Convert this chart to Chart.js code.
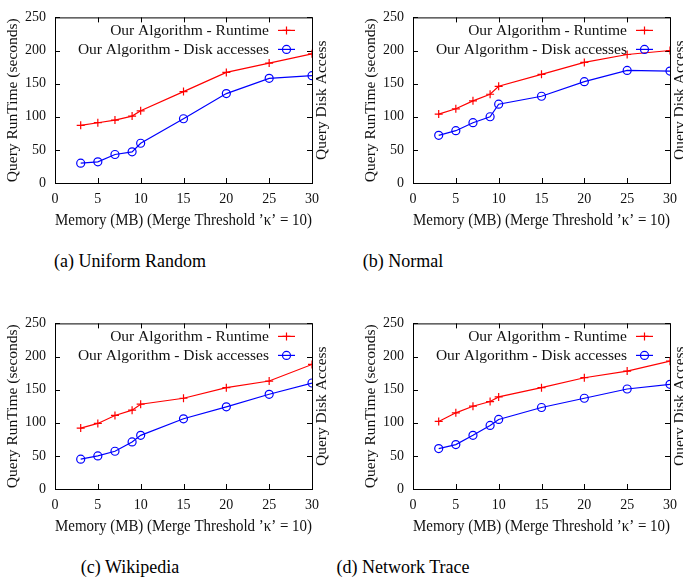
<!DOCTYPE html>
<html>
<head>
<meta charset="utf-8">
<title>Query runtime vs memory</title>
<script src="https://cdn.jsdelivr.net/npm/chart.js@4.4.1/dist/chart.umd.min.js"></script>
<style>
	html, body { margin: 0; padding: 0; background: #fff; }
	#sheet { position: relative; width: 683px; height: 580px; overflow: hidden; }
	.panel { position: absolute; }
	.caption {
		position: absolute;
		width: 260px;
		margin-left: -130px;
		text-align: center;
		font: 18px "Liberation Serif", serif;
		line-height: 20px;
		color: #000;
	}
</style>
</head>
<body>
<div id="sheet">
	<canvas id="chart-a" class="panel" width="340" height="235" style="left:0;top:0"></canvas>
	<canvas id="chart-b" class="panel" width="340" height="235" style="left:358px;top:0"></canvas>
	<canvas id="chart-c" class="panel" width="340" height="235" style="left:0;top:306px"></canvas>
	<canvas id="chart-d" class="panel" width="340" height="235" style="left:358px;top:306px"></canvas>
	<div id="cap-a" class="caption" style="left:130px;top:251px"></div>
	<div id="cap-b" class="caption" style="left:403px;top:251px"></div>
	<div id="cap-c" class="caption" style="left:130px;top:557px"></div>
	<div id="cap-d" class="caption" style="left:403px;top:557px"></div>
</div>
<script>
// memory budget on the x axis (MB)
var memoryMB = [3, 5, 7, 9, 10, 15, 20, 25, 30];
var xTickValues = [0, 5, 10, 15, 20, 25, 30];
var yTickValues = [0, 50, 100, 150, 200, 250];

var seriesLabels = ['Our Algorithm - Runtime', 'Our Algorithm - Disk accesses'];
var captions = ['(a) Uniform Random', '(b) Normal', '(c) Wikipedia', '(d) Network Trace'];

var runtimeUniform = [87, 91, 95, 101, 109, 138, 167, 181, 195];
var diskUniform = [30, 32, 43, 47, 60, 97, 135, 158, 162];
var runtimeNormal = [104, 112, 124, 134, 146, 164, 182, 194, 200];
var diskNormal = [72, 79, 91, 100, 119, 131, 153, 170, 169];
var runtimeWiki = [92, 99, 111, 119, 128, 137, 153, 163, 188];
var diskWiki = [45, 50, 57, 71, 81, 106, 124, 143, 160];
var runtimeTrace = [102, 115, 125, 132, 139, 153, 168, 178, 193];
var diskTrace = [61, 67, 81, 96, 105, 123, 137, 151, 158];

( function() {
	'use strict';

	var SERIF = '"Liberation Serif", "DejaVu Serif", serif';
	var INK = '#111';
	var RED = '#ff0000';
	var BLUE = '#0000ff';

	function toPoints( values ) {
		return memoryMB.map( function( m, i ) {
			return { x: m, y: values[ i ] };
		} );
	}

	// gnuplot-like box with inward ticks on all four sides
	var gnuplotFrame = {
		id: 'gnuplotFrame',
		beforeDatasetsDraw: function( chart ) {
			var ctx = chart.ctx;
			var a = chart.chartArea;
			var len = 5;
			ctx.save();
			ctx.strokeStyle = '#000';
			ctx.lineWidth = 1;
			ctx.strokeRect( a.left + 0.5, a.top + 0.5, a.right - a.left, a.bottom - a.top );
			ctx.beginPath();
			xTickValues.forEach( function( v ) {
				var px = Math.round( chart.scales.x.getPixelForValue( v ) ) + 0.5;
				ctx.moveTo( px, a.bottom );
				ctx.lineTo( px, a.bottom - len );
				ctx.moveTo( px, a.top );
				ctx.lineTo( px, a.top + len );
			} );
			yTickValues.forEach( function( v ) {
				var py = Math.round( chart.scales.y.getPixelForValue( v ) ) + 0.5;
				ctx.moveTo( a.left, py );
				ctx.lineTo( a.left + len, py );
				ctx.moveTo( a.right, py );
				ctx.lineTo( a.right - len, py );
			} );
			ctx.stroke();
			ctx.restore();
		}
	};

	function drawMarker( ctx, style, x, y, r ) {
		ctx.beginPath();
		if ( style === 'cross' ) {
			ctx.moveTo( x - r, y );
			ctx.lineTo( x + r, y );
			ctx.moveTo( x, y - r );
			ctx.lineTo( x, y + r );
		} else {
			ctx.arc( x, y, r, 0, Math.PI * 2 );
		}
		ctx.stroke();
	}

	// key inside the plot, text right-aligned with the sample on its right
	var insideKey = {
		id: 'insideKey',
		afterDatasetsDraw: function( chart ) {
			var ctx = chart.ctx;
			var a = chart.chartArea;
			ctx.save();
			ctx.font = '15.5px ' + SERIF;
			ctx.textAlign = 'right';
			ctx.textBaseline = 'middle';
			chart.data.datasets.forEach( function( ds, i ) {
				var y = a.top + 13 + i * 19;
				ctx.fillStyle = INK;
				ctx.fillText( ds.label, a.right - 43, y + 1 );
				ctx.strokeStyle = ds.borderColor;
				ctx.lineWidth = ds.borderWidth;
				ctx.beginPath();
				ctx.moveTo( a.right - 34, y );
				ctx.lineTo( a.right - 17, y );
				ctx.stroke();
				drawMarker( ctx, ds.pointStyle, a.right - 25.5, y, ds.pointRadius );
			} );
			ctx.restore();
		}
	};

	// second axis label on the right, reading bottom to top
	var rightLabel = {
		id: 'rightLabel',
		afterDraw: function( chart ) {
			var ctx = chart.ctx;
			var a = chart.chartArea;
			ctx.save();
			ctx.translate( a.right + 10, ( a.top + a.bottom ) / 2 );
			ctx.rotate( -Math.PI / 2 );
			ctx.font = '15.5px ' + SERIF;
			ctx.fillStyle = INK;
			ctx.textAlign = 'center';
			ctx.textBaseline = 'middle';
			ctx.fillText( 'Query Disk Access', 0, 0 );
			ctx.restore();
		}
	};

	function makeChart( canvasId, runtime, disk ) {
		return new Chart( document.getElementById( canvasId ), {
			type: 'line',
			data: {
				datasets: [
					{
						label: seriesLabels[ 0 ],
						data: toPoints( runtime ),
						borderColor: RED,
						backgroundColor: RED,
						borderWidth: 1.2,
						pointStyle: 'cross',
						pointRadius: 4,
						pointBorderWidth: 1.2,
						tension: 0
					},
					{
						label: seriesLabels[ 1 ],
						data: toPoints( disk ),
						borderColor: BLUE,
						backgroundColor: 'rgba(0,0,0,0)',
						borderWidth: 1.2,
						pointStyle: 'circle',
						pointRadius: 4,
						pointBorderWidth: 1.2,
						tension: 0
					}
				]
			},
			options: {
				responsive: false,
				animation: false,
				layout: { padding: { top: 11, right: 28, left: 0, bottom: 0 } },
				plugins: {
					legend: { display: false },
					tooltip: { enabled: false }
				},
				scales: {
					x: {
						type: 'linear',
						min: xTickValues[ 0 ],
						max: xTickValues[ xTickValues.length - 1 ],
						afterFit: function( scale ) { scale.height = 52; },
						grid: { display: false, drawTicks: false },
						border: { display: false },
						ticks: {
							stepSize: xTickValues[ 1 ] - xTickValues[ 0 ],
							maxRotation: 0,
							autoSkip: false,
							padding: 8,
							color: INK,
							font: { family: SERIF, size: 14 }
						},
						title: {
							display: true,
							text: 'Memory (MB) (Merge Threshold ’κ’ = 10)',
							color: INK,
							font: { family: SERIF, size: 16.2 },
							padding: { top: 0, bottom: 5 }
						}
					},
					y: {
						min: yTickValues[ 0 ],
						max: yTickValues[ yTickValues.length - 1 ],
						afterFit: function( scale ) { scale.width = 55; },
						grid: { display: false, drawTicks: false },
						border: { display: false },
						ticks: {
							stepSize: yTickValues[ 1 ] - yTickValues[ 0 ],
							padding: 9,
							color: INK,
							font: { family: SERIF, size: 14 }
						},
						title: {
							display: true,
							text: 'Query RunTime (seconds)',
							color: INK,
							font: { family: SERIF, size: 15.5 },
							padding: { top: 4, bottom: 0 }
						}
					}
				}
			},
			plugins: [ gnuplotFrame, insideKey, rightLabel ]
		} );
	}

	makeChart( 'chart-a', runtimeUniform, diskUniform );
	makeChart( 'chart-b', runtimeNormal, diskNormal );
	makeChart( 'chart-c', runtimeWiki, diskWiki );
	makeChart( 'chart-d', runtimeTrace, diskTrace );

	[ 'cap-a', 'cap-b', 'cap-c', 'cap-d' ].forEach( function( id, i ) {
		document.getElementById( id ).textContent = captions[ i ];
	} );
} )();
</script>
</body>
</html>
